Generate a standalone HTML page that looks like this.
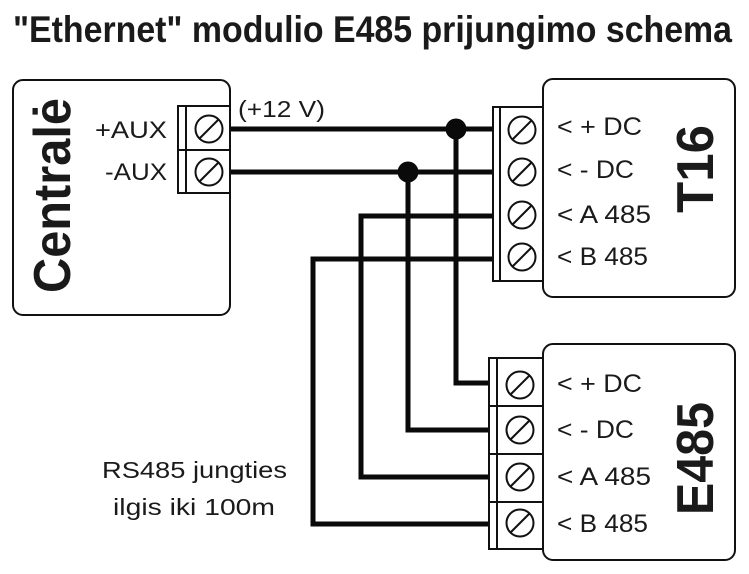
<!DOCTYPE html>
<html>
<head>
<meta charset="utf-8">
<style>
  html,body{margin:0;padding:0;background:#fff;}
  svg{display:block;}
  text{font-family:"Liberation Sans",sans-serif;fill:#1a1a1a;}
</style>
</head>
<body>
<svg width="749" height="574" viewBox="0 0 749 574" xmlns="http://www.w3.org/2000/svg">
  <!-- Title -->
  <text x="13" y="42" font-size="37" font-weight="bold" textLength="719" lengthAdjust="spacingAndGlyphs">"Ethernet" modulio E485 prijungimo schema</text>

  <!-- Boxes -->
  <rect x="13" y="80" width="217" height="235" rx="10" ry="10" fill="#fff" stroke="#111" stroke-width="2"/>
  <rect x="543" y="79" width="192" height="218" rx="10" ry="10" fill="#fff" stroke="#111" stroke-width="2"/>
  <rect x="543" y="344" width="192" height="216" rx="10" ry="10" fill="#fff" stroke="#111" stroke-width="2"/>

  <!-- Wires -->
  <g stroke="#0a0a0a" stroke-width="5" fill="none" stroke-linejoin="miter" stroke-linecap="butt">
    <line x1="230" y1="129" x2="493" y2="129"/>
    <line x1="230" y1="172" x2="493" y2="172"/>
    <polyline points="493,216 361,216 361,477 489,477"/>
    <polyline points="493,259 313,259 313,524 489,524"/>
    <polyline points="456,129 456,383 489,383"/>
    <polyline points="408,172 408,430 489,430"/>
  </g>
  <circle cx="456" cy="129" r="10.5" fill="#0a0a0a"/>
  <circle cx="408" cy="172" r="10.5" fill="#0a0a0a"/>

  <!-- Centrale terminal block -->
  <g stroke="#111" stroke-width="2" fill="#fff">
    <rect x="178" y="106" width="52" height="87"/>
    <line x1="186" y1="106" x2="186" y2="193"/>
    <line x1="178" y1="150" x2="230" y2="150"/>
  </g>
  <!-- T16 terminal block -->
  <g stroke="#111" stroke-width="2" fill="#fff">
    <rect x="493" y="107" width="50" height="174"/>
    <line x1="500" y1="107" x2="500" y2="281"/>
  </g>
  <!-- E485 terminal block -->
  <g stroke="#111" stroke-width="2" fill="#fff">
    <rect x="489" y="358" width="54" height="191"/>
    <line x1="497" y1="358" x2="497" y2="549"/>
    <line x1="489" y1="406" x2="543" y2="406"/>
    <line x1="489" y1="454" x2="543" y2="454"/>
    <line x1="489" y1="502" x2="543" y2="502"/>
  </g>

  <!-- Screws -->
  <defs>
    <g id="sc">
      <circle cx="0" cy="0" r="13.5" fill="#fff" stroke="#111" stroke-width="2"/>
      <line x1="-9.5" y1="9.5" x2="9.5" y2="-9.5" stroke="#111" stroke-width="2"/>
    </g>
  </defs>
  <use href="#sc" x="209" y="129"/>
  <use href="#sc" x="209" y="172"/>
  <use href="#sc" x="522" y="130"/>
  <use href="#sc" x="522" y="172"/>
  <use href="#sc" x="522" y="215"/>
  <use href="#sc" x="522" y="257"/>
  <use href="#sc" x="520" y="385"/>
  <use href="#sc" x="520" y="430"/>
  <use href="#sc" x="520" y="477"/>
  <use href="#sc" x="520" y="523"/>

  <!-- Centrale labels -->
  <text x="167" y="138" font-size="24" text-anchor="end" textLength="72" lengthAdjust="spacingAndGlyphs">+AUX</text>
  <text x="167" y="180" font-size="24" text-anchor="end" textLength="62" lengthAdjust="spacingAndGlyphs">-AUX</text>
  <text transform="translate(70,293) rotate(-90)" font-size="52" font-weight="bold" textLength="195" lengthAdjust="spacingAndGlyphs">Centralė</text>

  <!-- +12V -->
  <text x="238" y="117" font-size="23" textLength="87" lengthAdjust="spacingAndGlyphs">(+12 V)</text>

  <!-- T16 labels -->
  <text x="557" y="135" font-size="25" textLength="85" lengthAdjust="spacingAndGlyphs">&lt; + DC</text>
  <text x="557" y="178" font-size="25" textLength="77" lengthAdjust="spacingAndGlyphs">&lt; - DC</text>
  <text x="557" y="223" font-size="25" textLength="94" lengthAdjust="spacingAndGlyphs">&lt; A 485</text>
  <text x="557" y="265" font-size="25" textLength="91" lengthAdjust="spacingAndGlyphs">&lt; B 485</text>
  <text transform="translate(713,213) rotate(-90)" font-size="52" font-weight="bold" textLength="88" lengthAdjust="spacingAndGlyphs">T16</text>

  <!-- E485 labels -->
  <text x="557" y="392" font-size="25" textLength="85" lengthAdjust="spacingAndGlyphs">&lt; + DC</text>
  <text x="557" y="438" font-size="25" textLength="77" lengthAdjust="spacingAndGlyphs">&lt; - DC</text>
  <text x="557" y="485" font-size="25" textLength="94" lengthAdjust="spacingAndGlyphs">&lt; A 485</text>
  <text x="557" y="532" font-size="25" textLength="91" lengthAdjust="spacingAndGlyphs">&lt; B 485</text>
  <text transform="translate(713,515) rotate(-90)" font-size="52" font-weight="bold" textLength="113" lengthAdjust="spacingAndGlyphs">E485</text>

  <!-- Bottom note -->
  <text x="102" y="478" font-size="23" textLength="185" lengthAdjust="spacingAndGlyphs">RS485 jungties</text>
  <text x="113" y="515" font-size="23" textLength="162" lengthAdjust="spacingAndGlyphs">ilgis iki 100m</text>
</svg>
</body>
</html>
